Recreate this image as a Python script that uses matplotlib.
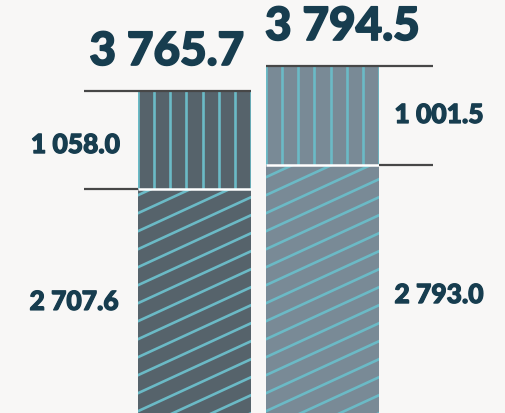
import numpy as np
import matplotlib.pyplot as plt
import matplotlib.patheffects as pe

# values
base = [2707.6, 2793.0]
top = [1058.0, 1001.5]
totals = [3765.7, 3794.5]
base_lbl = ['2 707.6', '2 793.0']
top_lbl = ['1 058.0', '1 001.5']
total_lbl = ['3 765.7', '3 794.5']

W, H, DPI = 506, 413, 100
bg = '#f8f7f6'
bar_cols = ['#56636b', '#798a96']
hatch_col = '#6bbac6'
txt_col = '#173d4f'
guide_col = '#474747'

# each bar has its own scale in the original infographic
top_px = [91, 66]
mid_px = [189, 165]
px_per_x = 128.0
x0_px = 194.5
w = 0.89

plt.rcParams['font.family'] = ['Lato', 'DejaVu Sans']
fig = plt.figure(figsize=(W / DPI, H / DPI), dpi=DPI)
fig.patch.set_facecolor(bg)

for i in range(2):
    ax = fig.add_axes([0, 0, 1, 1])
    ax.set_facecolor('none')
    ax.axis('off')
    k = top[i] / (mid_px[i] - top_px[i])          # data units per pixel
    lo = base[i] - (H - mid_px[i]) * k
    ax.set_ylim(lo, lo + H * k)
    ax.set_xlim(-x0_px / px_per_x, (W - x0_px) / px_per_x)

    x = i
    b1 = ax.bar(x, base[i], w, color=bar_cols[i], lw=0)[0]
    b2 = ax.bar(x, top[i], w, bottom=base[i], color=bar_cols[i], lw=0)[0]
    left, right = x - w / 2, x + w / 2

    # vertical hatch on the top segment
    for xv in np.linspace(left, right, 8):
        ln, = ax.plot([xv, xv], [base[i], totals[i]], color=hatch_col, lw=1.9)
        ln.set_clip_path(b2)

    # slanted hatch on the base segment
    slope = 0.46 * px_per_x * k
    step = 18 * k
    span = slope * w
    for y0 in np.arange(lo - span - 5 * step, base[i] + step, step):
        ln, = ax.plot([left, right], [y0, y0 + span], color=hatch_col, lw=1.9)
        ln.set_clip_path(b1)

    # white separator between segments
    ax.hlines(base[i], left, right, color='white', lw=1.8, zorder=4)

    side = -1 if i == 0 else 1
    ext = 0.42
    if side < 0:
        ax.hlines(totals[i], left - ext, right, color=guide_col, lw=1.6, zorder=5)
        ax.hlines(base[i], left - ext, left, color=guide_col, lw=1.6, zorder=5)
    else:
        ax.hlines(totals[i], left, right + ext, color=guide_col, lw=1.6, zorder=5)
        ax.hlines(base[i], right, right + ext, color=guide_col, lw=1.6, zorder=5)

    # totals above bars
    ax.annotate(total_lbl[i], (x, totals[i]), xytext=(-19.8 if i == 0 else 14.4, 18.7),
                textcoords='offset points', ha='center', va='baseline',
                fontsize=33, fontweight='black', color=txt_col,
                path_effects=[pe.withStroke(linewidth=1.2, foreground=txt_col)])

    # segment labels
    lkw = dict(textcoords='offset points', va='baseline', fontsize=19,
               fontweight='black', color=txt_col,
               path_effects=[pe.withStroke(linewidth=0.9, foreground=txt_col)])
    if side < 0:
        ax.annotate(top_lbl[i], (left, base[i] + top[i] / 2), xytext=(-12.7, -9.4),
                    ha='right', **lkw)
        ax.annotate(base_lbl[i], (left, base[i] / 2), xytext=(-13.5, 3.2),
                    ha='right', **lkw)
    else:
        ax.annotate(top_lbl[i], (right, base[i] + top[i] / 2), xytext=(10.8, -5.4),
                    ha='left', **lkw)
        ax.annotate(base_lbl[i], (right, base[i] / 2), xytext=(10.8, 0),
                    ha='left', **lkw)

fig.savefig('out.png', dpi=DPI, facecolor=bg)
